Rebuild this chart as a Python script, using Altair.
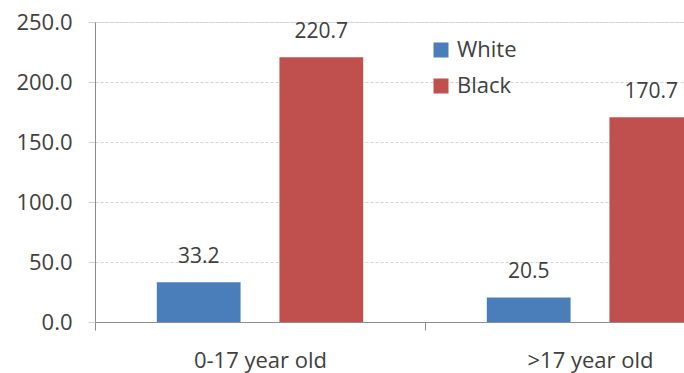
import altair as alt
import pandas as pd

groups = ["0-17 year old", "0-17 year old", ">17 year old", ">17 year old"]
races = ["White", "Black", "White", "Black"]
values = [33.2, 220.7, 20.5, 170.7]
y_ticks = [0, 50, 100, 150, 200, 250]
colors = ["#4A7EBB", "#C0504D"]

df = pd.DataFrame({"group": groups, "race": races, "value": values})

FONT = "Open Sans"
TXT = "#404040"

x_enc = alt.X("group:N", sort=["0-17 year old", ">17 year old"],
              scale=alt.Scale(range=[0, 660], paddingInner=0, paddingOuter=0),
              axis=alt.Axis(title=None, labelAngle=0, tickBand="extent",
                            labelFontSize=22, labelFont=FONT, labelColor=TXT,
                            labelPadding=20, tickSize=8, tickColor="#8c8c8c",
                            domainColor="#8c8c8c", grid=False))
xo_enc = alt.XOffset("race:N", sort=["White", "Black"],
                     scale=alt.Scale(paddingInner=0.317, paddingOuter=0.504))
y_enc = alt.Y("value:Q",
              scale=alt.Scale(domain=[0, 250], nice=False),
              axis=alt.Axis(title=None, values=y_ticks, format=".1f",
                            labelFontSize=22, labelFont=FONT, labelColor=TXT,
                            labelPadding=16, tickSize=7, tickColor="#cfcfcf",
                            domainColor="#8c8c8c", gridColor="#d2d2d2",
                            gridDash=[3, 2], grid=True))

bars = alt.Chart(df).mark_bar(clip=True).encode(
    x=x_enc, xOffset=xo_enc, y=y_enc,
    color=alt.Color("race:N", sort=["White", "Black"],
                    scale=alt.Scale(domain=["White", "Black"], range=colors),
                    legend=alt.Legend(title=None, orient="none", legendX=335, legendY=17,
                                      symbolType="square", symbolSize=225,
                                      symbolStrokeWidth=0, labelFontSize=22,
                                      labelFont=FONT, labelColor=TXT, labelOffset=5,
                                      rowPadding=14, padding=0)),
)

labels = alt.Chart(df).mark_text(baseline="bottom", dy=-15, fontSize=21, font=FONT,
                                 color=TXT).encode(
    x=alt.X("group:N", sort=["0-17 year old", ">17 year old"]),
    xOffset=alt.XOffset("race:N", sort=["White", "Black"]),
    y="value:Q",
    text=alt.Text("value:Q", format=".1f"),
)

chart = (bars + labels).properties(
    width=589, height=300,
    autosize=alt.AutoSizeParams(type="none"),
    padding={"left": 95, "top": 22, "right": 0, "bottom": 51},
).configure_view(stroke=None).configure(background="white")

chart.save("out.html", embed_options={"renderer": "svg", "actions": False})
